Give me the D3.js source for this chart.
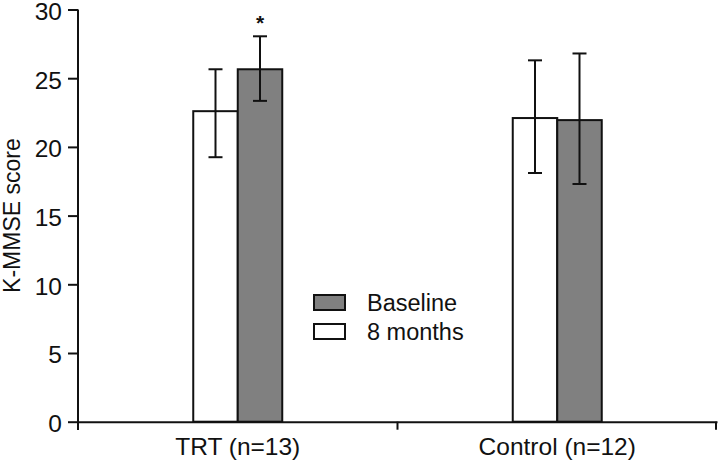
<!DOCTYPE html>
<html><head><meta charset="utf-8">
<script src="https://cdn.jsdelivr.net/npm/d3@7"></script>
<style>body{margin:0;background:#fff}svg{display:block}text{font-family:"Liberation Sans",Arial,sans-serif;fill:#111}</style>
</head><body>
<script>
const categories = ["TRT (n=13)", "Control (n=12)"];
const seriesNames = ["8 months", "Baseline"];
const eightMonths = [22.6, 22.1];
const eightMonthsLow = [19.25, 18.1];
const eightMonthsHigh = [25.65, 26.3];
const baseline = [25.65, 21.95];
const baselineLow = [23.35, 17.3];
const baselineHigh = [28.05, 26.8];
const yTicks = [0, 5, 10, 15, 20, 25, 30];
const significant = [true, false]; // asterisk over Baseline bar

const W = 718, H = 462;
const svg = d3.select("body").append("svg").attr("width", W).attr("height", H);
const FF = '"Liberation Sans",Arial,sans-serif';
const x = d3.scaleBand().domain(categories).range([78, 717]).padding(0);
const y = d3.scaleLinear().domain([0, 30]).range([421.7, 9.5]);
const barW = 44.5;
const xSub = d3.scaleBand().domain(seriesNames).range([-barW, barW]);
const fills = {"8 months": "#ffffff", "Baseline": "#808080"};

const rows = [];
categories.forEach((c, i) => {
  rows.push({cat: c, s: "8 months", v: eightMonths[i], lo: eightMonthsLow[i], hi: eightMonthsHigh[i], sig: false});
  rows.push({cat: c, s: "Baseline", v: baseline[i], lo: baselineLow[i], hi: baselineHigh[i], sig: significant[i]});
});
const cx = d => x(d.cat) + x.bandwidth() / 2 + xSub(d.s);

svg.selectAll("rect.bar").data(rows).join("rect")
  .attr("x", d => cx(d)).attr("y", d => y(d.v))
  .attr("width", xSub.bandwidth()).attr("height", d => y(0) - y(d.v))
  .attr("fill", d => fills[d.s]).attr("stroke", "#111").attr("stroke-width", 2);

const eb = svg.append("g").attr("stroke", "#111").attr("stroke-width", 2);
rows.forEach(d => {
  const m = cx(d) + xSub.bandwidth() / 2;
  eb.append("line").attr("x1", m).attr("x2", m).attr("y1", y(d.lo)).attr("y2", y(d.hi));
  eb.append("line").attr("x1", m - 7).attr("x2", m + 7).attr("y1", y(d.lo)).attr("y2", y(d.lo));
  eb.append("line").attr("x1", m - 7).attr("x2", m + 7).attr("y1", y(d.hi)).attr("y2", y(d.hi));
  if (d.sig) {
    svg.append("text").attr("x", m).attr("y", y(d.hi) - 6).attr("text-anchor", "middle")
      .style("font-size", "21px").style("font-weight", "bold").text("*");
  }
});

// Y axis
const ya = svg.append("g").attr("transform", "translate(78,0)")
  .call(d3.axisLeft(y).tickValues(yTicks).tickSize(10).tickPadding(6).tickSizeOuter(0));
ya.select(".domain").remove();
ya.selectAll(".tick line").attr("stroke", "#111").attr("stroke-width", 2);
ya.selectAll("text").style("font-size", "24.5px").style("font-family", FF).attr("fill", "#111").attr("dy", "0.4em");
svg.append("line").attr("x1", 78).attr("x2", 78).attr("y1", y(30)).attr("y2", 430).attr("stroke", "#111").attr("stroke-width", 2);

// X axis
const xa = svg.append("g").attr("transform", `translate(0,${y(0)})`)
  .call(d3.axisBottom(x).tickSize(0).tickPadding(16));
xa.select(".domain").attr("stroke", "#111").attr("stroke-width", 2);
xa.selectAll("text").style("font-size", "24.5px").style("font-family", FF).attr("fill", "#111");
const bounds = [x.range()[0] + x.bandwidth(), x.range()[1] - 1];
bounds.forEach(b => svg.append("line").attr("x1", b).attr("x2", b).attr("y1", y(0)).attr("y2", y(0) + 8).attr("stroke", "#111").attr("stroke-width", 2));

// Y label
svg.append("text").attr("transform", `translate(20,${(y(0) + y(30)) / 2}) rotate(-90)`)
  .attr("text-anchor", "middle").style("font-size", "23px").text("K-MMSE score");

// Legend
const legendItems = ["Baseline", "8 months"];
const lg = svg.append("g").attr("transform", "translate(314,295)");
legendItems.forEach((s, i) => {
  lg.append("rect").attr("x", 0).attr("y", i * 29).attr("width", 31).attr("height", 15)
    .attr("fill", fills[s]).attr("stroke", "#111").attr("stroke-width", 2);
  lg.append("text").attr("x", 53).attr("y", i * 29 + 16).style("font-size", "23.5px").text(s);
});
</script>
</body></html>
